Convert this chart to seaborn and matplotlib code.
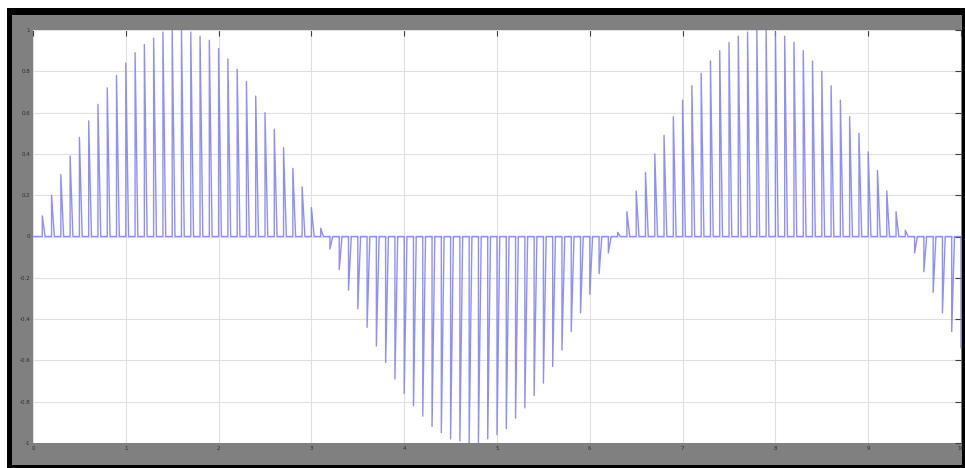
import numpy as np
import pandas as pd
import seaborn as sns
from matplotlib import pyplot as plt
from matplotlib.patches import Rectangle


# Pulse heights, one pulse every 0.1 s from t=0 to t=10
pulse_step = 0.1
pulse_fall = 0.03
peaks = [0.00, 0.10, 0.20, 0.30, 0.39, 0.48, 0.56, 0.64, 0.72, 0.78,
         0.84, 0.89, 0.93, 0.96, 0.99, 1.00, 1.00, 0.99, 0.97, 0.95,
         0.91, 0.86, 0.81, 0.75, 0.68, 0.60, 0.52, 0.43, 0.33, 0.24,
         0.14, 0.04, -0.06, -0.16, -0.26, -0.35, -0.44, -0.53, -0.61, -0.69,
         -0.76, -0.82, -0.87, -0.92, -0.95, -0.98, -0.99, -1.00, -1.00, -0.98,
         -0.96, -0.93, -0.88, -0.83, -0.77, -0.71, -0.63, -0.55, -0.46, -0.37,
         -0.28, -0.18, -0.08, 0.02, 0.12, 0.22, 0.31, 0.40, 0.49, 0.58,
         0.66, 0.73, 0.79, 0.85, 0.90, 0.94, 0.97, 0.99, 1.00, 1.00,
         0.99, 0.97, 0.94, 0.90, 0.85, 0.80, 0.73, 0.66, 0.58, 0.50,
         0.41, 0.32, 0.22, 0.12, 0.03, -0.08, -0.17, -0.27, -0.37, -0.46,
         -0.54]

x_ticks = list(range(0, 11))
y_ticks = [-1, -0.8, -0.6, -0.4, -0.2, 0, 0.2, 0.4, 0.6, 0.8, 1]
y_labels = ['-1', '-0.8', '-0.6', '-0.4', '-0.2', '0', '0.2', '0.4', '0.6', '0.8', '1']

# build the pulse trace: sharp rise to the pulse height, steep fall back to 0
t_path, v_path = [], []
for k, v in enumerate(peaks):
    t0 = k * pulse_step
    t_path += [t0, t0, t0 + pulse_fall]
    v_path += [0, v, 0]
trace = pd.DataFrame({'t': t_path, 'v': v_path})

sns.set_style('white')
fig = plt.figure(figsize=(9.65, 4.68), dpi=100, facecolor='white')

# scope window frame: black outline with grey panel
W, H = 965, 468
fig.patches.append(Rectangle((7 / W, 0), (W - 7) / W, (H - 8) / H,
                             transform=fig.transFigure, facecolor='black',
                             edgecolor='none', zorder=-10))
fig.patches.append(Rectangle((12 / W, 3 / H), (W - 15) / W, (H - 18) / H,
                             transform=fig.transFigure, facecolor='#808080',
                             edgecolor='none', zorder=-9))

ax = fig.add_axes([33 / W, 25 / H, 928 / W, 413 / H])
ax.set_zorder(5)
ax.set_facecolor('white')

sns.lineplot(data=trace, x='t', y='v', sort=False, estimator=None,
             color='#7c7cff', lw=1.0, alpha=0.85, ax=ax)

ax.set_xlim(0, 10)
ax.set_ylim(-1, 1)
ax.set_xticks(x_ticks)
ax.set_yticks(y_ticks)
ax.set_xticklabels([str(x) for x in x_ticks])
ax.set_yticklabels(y_labels)
ax.grid(True, color='#e0e0e0', lw=0.8)
ax.tick_params(direction='in', length=4, width=0.8, color='#404040',
               labelsize=4, labelcolor='#303030', pad=2,
               top=True, right=True)
for s in ax.spines.values():
    s.set_visible(False)
ax.set_xlabel('')
ax.set_ylabel('')

plt.savefig('out.png', dpi=100, facecolor=fig.get_facecolor())
